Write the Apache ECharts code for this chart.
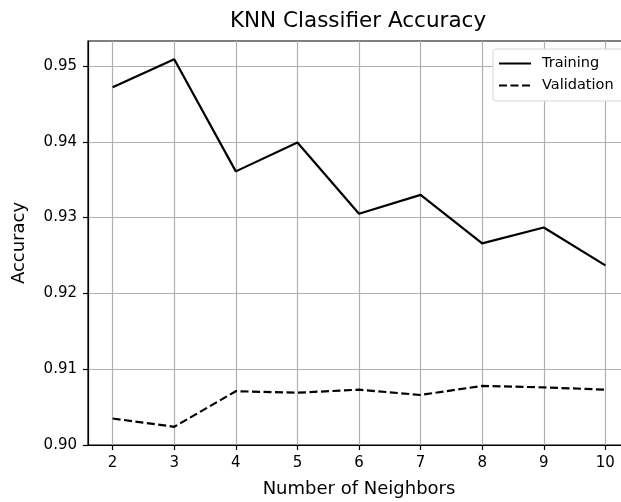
<!DOCTYPE html>
<html>
<head>
<meta charset="utf-8">
<script src="https://cdn.jsdelivr.net/npm/echarts@6/dist/echarts.min.js"></script>
<style>
  html, body { margin: 0; padding: 0; background: #fff; }
  #chart { width: 621px; height: 502px; }
</style>
</head>
<body>
<div id="chart"></div>
<script>
// values
const neighbors = [2, 3, 4, 5, 6, 7, 8, 9, 10];
const trainingAcc = [0.9472, 0.9509, 0.9361, 0.9399, 0.9305, 0.9330, 0.9266, 0.9287, 0.9237];
const validationAcc = [0.9035, 0.9024, 0.9071, 0.9069, 0.9073, 0.9066, 0.9078, 0.9076, 0.9073];
const xTicks = [2, 3, 4, 5, 6, 7, 8, 9, 10];
const yTicks = [0.90, 0.91, 0.92, 0.93, 0.94, 0.95];

const font = 'DejaVu Sans';

const myChart = echarts.init(document.getElementById('chart'));

const toPoints = (ys) => neighbors.map((x, i) => [x, ys[i]]);

myChart.setOption({
  animation: false,
  backgroundColor: '#fff',
  textStyle: { fontFamily: font, color: '#000' },
  title: {
    text: 'KNN Classifier Accuracy',
    left: 358,
    textAlign: 'center',
    top: 10,
    padding: 0,
    textStyle: { fontFamily: font, fontSize: 21.5, fontWeight: 'normal', color: '#000' }
  },
  legend: {
    orient: 'vertical',
    left: 493,
    top: 49,
    padding: [7, 16, 8, 5],
    itemGap: 7,
    itemWidth: 32,
    itemHeight: 14,
    backgroundColor: '#fff',
    borderColor: '#d6d6d6',
    borderWidth: 1,
    borderRadius: 3,
    itemStyle: { opacity: 0 },
    textStyle: { fontFamily: font, fontSize: 14.5, color: '#000', padding: [0, 0, 0, 6] },
    data: ['Training', 'Validation']
  },
  grid: {
    left: 88,
    right: -9,
    top: 41,
    bottom: 57,
    outerBoundsMode: 'none',
    containLabel: false,
    show: true,
    borderColor: '#000',
    borderWidth: 1.2,
    backgroundColor: 'transparent'
  },
  xAxis: {
    type: 'value',
    min: 1.6,
    max: 10.4,
    name: 'Number of Neighbors',
    nameLocation: 'middle',
    nameGap: 35,
    nameTextStyle: { fontFamily: font, fontSize: 18, color: '#000' },
    axisLine: { show: true, lineStyle: { color: '#000', width: 1.2 } },
    axisTick: { show: true, inside: false, length: 5, customValues: xTicks, lineStyle: { color: '#000', width: 1.2 } },
    axisLabel: { customValues: xTicks, margin: 11, fontFamily: font, fontSize: 15, color: '#000' },
    splitLine: { show: true, lineStyle: { color: '#b0b0b0', width: 1.2 } }
  },
  yAxis: {
    type: 'value',
    min: 0.9,
    max: 0.9533,
    interval: 0.01,
    name: 'Accuracy',
    nameLocation: 'middle',
    nameGap: 60,
    nameRotate: 90,
    nameTextStyle: { fontFamily: font, fontSize: 18, color: '#000' },
    axisLine: { show: true, lineStyle: { color: '#000', width: 1.2 } },
    axisTick: { show: true, inside: false, length: 5, customValues: yTicks, lineStyle: { color: '#000', width: 1.2 } },
    axisLabel: {
      customValues: yTicks,
      margin: 11,
      fontFamily: font,
      fontSize: 15,
      color: '#000',
      formatter: (v) => v.toFixed(2)
    },
    splitLine: { show: true, lineStyle: { color: '#b0b0b0', width: 1.2 } }
  },
  series: [
    {
      name: 'Training',
      type: 'line',
      data: toPoints(trainingAcc),
      symbol: 'none',
      showSymbol: false,
      lineStyle: { color: '#000', width: 2.2, type: 'solid' },
      itemStyle: { color: '#000' }
    },
    {
      name: 'Validation',
      type: 'line',
      data: toPoints(validationAcc),
      symbol: 'none',
      showSymbol: false,
      lineStyle: { color: '#000', width: 2.2, type: [8, 3.5] },
      itemStyle: { color: '#000' }
    }
  ]
});
</script>
</body>
</html>
